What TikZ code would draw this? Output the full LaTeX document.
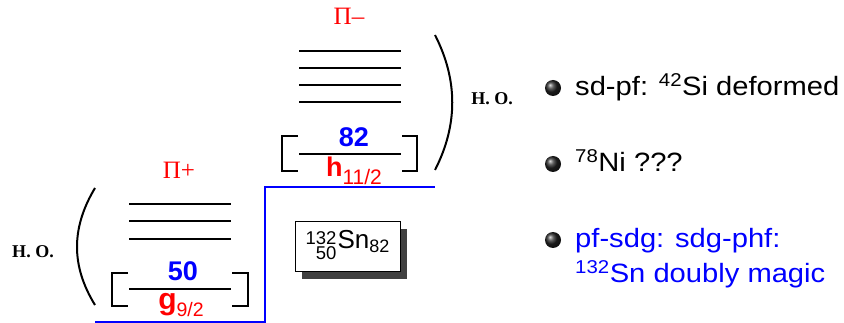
\documentclass[tikz,border=0pt]{standalone}
\usepackage{fontspec}
\setmainfont{Liberation Sans}
\newfontfamily\serifo{Liberation Serif}
\usetikzlibrary{shadows}
\tikzset{
  lvl/.style={line width=2.4pt},
  brk/.style={line width=2.4pt},
  paren/.style={line width=2pt},
  bline/.style={blue, line width=1.6pt},
  pilabel/.style={red, anchor=base, inner sep=0pt, font=\serifo\fontsize{25}{25}\selectfont},
  holabel/.style={font=\serifo\bfseries\fontsize{18}{18}\selectfont},
  magic/.style={blue, font=\bfseries\fontsize{27}{27}\selectfont},
  orb/.style={red, anchor=base, inner sep=0pt},
  btext/.style={anchor=base west, inner sep=0pt, font=\fontsize{26.5}{26.5}\selectfont},
}
\newcommand{\ballat}[1]{\shade[ball color=black!85] #1 circle (8pt);}
\newcommand{\wid}[1]{\scalebox{1.1}[1]{#1}}
\begin{document}
\begin{tikzpicture}[x=1pt,y=-1pt]
\useasboundingbox (0,0) rectangle (844,323);
% blue boundary
\draw[bline] (95,322) -- (265,322) -- (265,187) -- (435,187);
% left group
\node[pilabel] (pip) at (179,179) {Π+};
\draw[paren] (95,188) .. controls (71,228) and (71,266) .. (95,305);
\node[holabel] (hol) at (33,252) {H. O.};
\foreach \yy in {204,221,239} \draw[lvl] (129,\yy) -- (231,\yy);
\draw[lvl] (129,289) -- (231,289);
\draw[brk] (128,273) -- (112,273) -- (112,306) -- (128,306);
\draw[brk] (232,273) -- (248,273) -- (248,306) -- (232,306);
\node[magic] (m50) at (183,271) {50};
\node[orb] (g92) at (181,309) {{\fontsize{30}{30}\selectfont\bfseries g}{\fontsize{19.5}{19.5}\selectfont\raisebox{-7pt}{9/2}}};
% right group
\node[pilabel] (pim) at (349,25) {Π–};
\foreach \yy in {51,68,85,102} \draw[lvl] (299,\yy) -- (401,\yy);
\draw[lvl] (299,154) -- (401,154);
\draw[brk] (298,136) -- (282,136) -- (282,171) -- (298,171);
\draw[brk] (402,136) -- (417,136) -- (417,171) -- (402,171);
\draw[paren] (435,35) .. controls (458,80) and (458,125) .. (435,170);
\node[holabel] (hor) at (492,99) {H. O.};
\node[magic] (m82) at (354,137) {82};
\node[orb] (h112) at (354,177) {{\fontsize{27}{27}\selectfont\bfseries h}{\fontsize{21}{21}\selectfont\raisebox{-8pt}{11/2}}};
% Sn box
\node[draw, line width=1pt, fill=white, minimum width=105pt, minimum height=50pt, inner sep=0pt,
  drop shadow={shadow xshift=7pt, shadow yshift=-7pt, fill=black!75, opacity=1}]
  (sn) at (347.5,247) {\raisebox{-4pt}{\fontsize{18.5}{15}\selectfont\begin{tabular}{@{}r@{}}132\\[-3pt]50\end{tabular}}\kern1pt\fontsize{26}{26}\selectfont Sn\raisebox{-4pt}{\fontsize{18}{18}\selectfont 82}};
% bullets
\ballat{(553,88)}
\ballat{(553,164)}
\ballat{(553,240)}
\node[btext] (b1) at (575,96) {\wid{sd-pf: \textsuperscript{42}Si deformed}};
\node[btext] (b2) at (575,172) {\wid{\textsuperscript{78}Ni ???}};
\node[btext, blue] (b3) at (575,248) {\wid{pf-sdg: sdg-phf:}};
\node[btext, blue] (b3b) at (575,283) {\wid{\textsuperscript{132}Sn doubly magic}};
\end{tikzpicture}
\end{document}
